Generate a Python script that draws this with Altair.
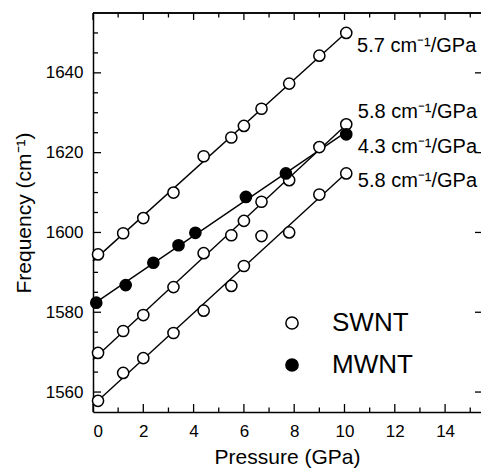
import altair as alt
import pandas as pd

FONT = "Liberation Sans, Arial, Helvetica, sans-serif"

# ---- data (pressure in GPa, frequency in cm-1) ----
swnt_a_p = [0.2, 1.2, 2.0, 3.2, 4.4, 5.5, 6.0, 6.7, 7.8, 9.0, 10.07]
swnt_a_f = [1594.5, 1599.8, 1603.6, 1610.0, 1619.1, 1623.8, 1626.7, 1631.0, 1637.3, 1644.3, 1650.0]
swnt_b_p = [0.2, 1.2, 2.0, 3.2, 4.4, 5.5, 6.0, 6.7, 7.8, 9.0, 10.07]
swnt_b_f = [1569.8, 1575.3, 1579.3, 1586.3, 1594.8, 1599.3, 1602.9, 1607.7, 1613.1, 1621.4, 1627.1]
swnt_c_p = [0.2, 1.2, 2.0, 3.2, 4.4, 5.5, 6.0, 6.7, 7.8, 9.0, 10.07]
swnt_c_f = [1557.8, 1564.8, 1568.5, 1574.8, 1580.4, 1586.6, 1591.6, 1599.1, 1600.0, 1609.5, 1614.8]
mwnt_p = [0.13, 1.3, 2.4, 3.4, 4.07, 6.08, 7.67, 10.07]
mwnt_f = [1582.4, 1586.8, 1592.4, 1596.8, 1599.9, 1608.9, 1614.8, 1624.6]

slope_labels = ["5.7 cm⁻¹/GPa", "5.8 cm⁻¹/GPa", "4.3 cm⁻¹/GPa", "5.8 cm⁻¹/GPa"]
slope_x = [10.5, 10.53, 10.53, 10.53]
slope_y = [1645.3, 1628.6, 1620.0, 1611.4]

x_major = [0, 2, 4, 6, 8, 10, 12, 14]
x_minor = [1, 3, 5, 7, 9, 11, 13, 15]
y_major = [1560, 1580, 1600, 1620, 1640]
y_minor = [1565, 1570, 1575, 1585, 1590, 1595, 1605, 1610, 1615, 1625, 1630, 1635, 1645, 1650]

W, H = 388, 399
X_DOMAIN = [0, W / 25.15]
Y_DOMAIN = [1555, 1655]

rows = []
for name, typ, ps, fs in [("a", "SWNT", swnt_a_p, swnt_a_f),
                          ("b", "SWNT", swnt_b_p, swnt_b_f),
                          ("c", "SWNT", swnt_c_p, swnt_c_f),
                          ("m", "MWNT", mwnt_p, mwnt_f)]:
    for p, f in zip(ps, fs):
        rows.append({"series": name, "type": typ, "p": p, "f": f})
df = pd.DataFrame(rows)

xs = alt.Scale(domain=X_DOMAIN, nice=False, zero=False)
ys = alt.Scale(domain=Y_DOMAIN, nice=False, zero=False)

XAXIS = alt.Axis(values=x_major, ticks=False, tickSize=0, labelPadding=11,
                 labelFontSize=17, titleFontSize=21, titlePadding=7,
                 labelFont=FONT, titleFont=FONT, titleFontWeight="normal",
                 domainColor="black", domainWidth=1.5, grid=False,
                 labelColor="black", titleColor="black")
YAXIS = alt.Axis(values=y_major, format="d", ticks=False, tickSize=0, labelPadding=10,
                 labelFontSize=17, titleFontSize=21, titlePadding=11,
                 labelFont=FONT, titleFont=FONT, titleFontWeight="normal",
                 domainColor="black", domainWidth=1.5, grid=False,
                 labelColor="black", titleColor="black")
XT = "Pressure (GPa)"
YT = "Frequency (cm⁻¹)"


def X(field="p"):
    return alt.X(f"{field}:Q", scale=xs, axis=XAXIS, title=XT)


def Y(field="f"):
    return alt.Y(f"{field}:Q", scale=ys, axis=YAXIS, title=YT)


base = alt.Chart(df)

lines = base.transform_regression(
    "p", "f", groupby=["series"], extent=[0, 10.07]
).mark_line(color="black", strokeWidth=1.4).encode(
    x=X(), y=Y(), detail="series:N",
)

points = base.mark_point(shape="circle", filled=True, stroke="black",
                         strokeWidth=1.5, size=125, opacity=1).encode(
    x=X(), y=Y(),
    fill=alt.Fill("type:N",
                  scale=alt.Scale(domain=["SWNT", "MWNT"], range=["white", "black"]),
                  legend=alt.Legend(orient="none", legendX=186, legendY=297, title=None,
                                    labelFontSize=26, labelFont=FONT, labelColor="black",
                                    symbolSize=150, symbolType="circle",
                                    symbolStrokeColor="black", symbolStrokeWidth=1.5,
                                    labelOffset=27, rowPadding=16)),
    order=alt.Order("type:N", sort="descending"),
)

ann_df = pd.DataFrame({"p": slope_x, "f": slope_y, "label": slope_labels})
annotations = alt.Chart(ann_df).mark_text(
    align="left", baseline="alphabetic", fontSize=20, font=FONT, color="black"
).encode(x=X(), y=Y(), text="label:N")


# frame ticks (drawn inward)
def yticks(vals, x0, x1):
    return alt.Chart(pd.DataFrame({"f": vals})).mark_rule(color="black", strokeWidth=1.3).encode(
        y=Y(), x=alt.value(x0), x2=alt.value(x1))


def xticks(vals, y0, y1):
    return alt.Chart(pd.DataFrame({"p": vals})).mark_rule(color="black", strokeWidth=1.3).encode(
        x=X(), y=alt.value(y0), y2=alt.value(y1))


top_line = alt.Chart(pd.DataFrame({"p": X_DOMAIN})).mark_rule(
    color="black", strokeWidth=1.5).encode(
    x=alt.value(0), x2=alt.value(W), y=alt.value(0))

ticks = [
    yticks(y_major, 0, 8), yticks(y_minor, 0, 5),
    yticks(y_major, W - 6, W),
    xticks(x_major, H, H - 8), xticks(x_minor, H, H - 4.5),
    xticks(x_major, 0, 7), xticks(x_minor, 0, 4.5),
]

chart = alt.layer(
    *ticks, top_line, lines, points, annotations
).properties(
    width=W, height=H,
    padding={"left": 85, "top": 5, "right": 0, "bottom": 58},
    autosize="none",
    background="white",
).configure_view(stroke=None)

chart.save("out.html", embed_options={"renderer": "svg", "actions": False})
